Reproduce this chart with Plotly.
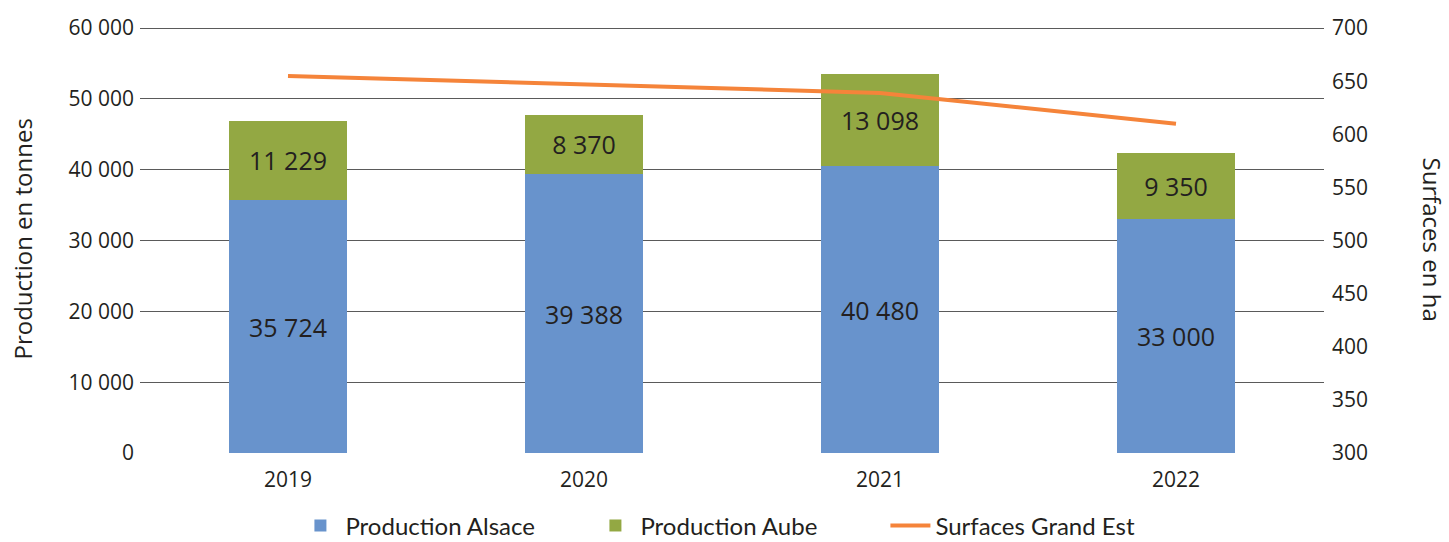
import plotly.graph_objects as go

years = ["2019", "2020", "2021", "2022"]
alsace = [35724, 39388, 40480, 33000]
aube = [11229, 8370, 13098, 9350]
surfaces = [655, 647, 639, 610]

left_ticks = [0, 10000, 20000, 30000, 40000, 50000, 60000]
right_ticks = [300, 350, 400, 450, 500, 550, 600, 650, 700]

FONT = "Open Sans"
TXT = "#231F20"
fig = go.Figure()
fig.add_trace(go.Bar(
    x=years, y=alsace, name="Production Alsace",
    marker=dict(color="#6893CC", line=dict(width=0)),
    texttemplate="%{y:,}", textposition="inside", insidetextanchor="middle",
    textfont=dict(size=25, color=TXT, family=FONT),
))
fig.add_trace(go.Bar(
    x=years, y=aube, name="Production Aube",
    marker=dict(color="#93A843", line=dict(width=0)),
    texttemplate="%{y:,}", textposition="inside", insidetextanchor="middle",
    textfont=dict(size=25, color=TXT, family=FONT),
))
fig.add_trace(go.Scatter(
    x=years, y=surfaces, name="Surfaces Grand Est", yaxis="y2",
    mode="lines", line=dict(color="#F5843A", width=4),
))

fig.update_layout(
    width=1449, height=542,
    barmode="stack", bargap=0.6,
    separators=", ",
    paper_bgcolor="white", plot_bgcolor="white",
    margin=dict(l=140, r=125, t=26, b=89, autoexpand=False),
    font=dict(family=FONT, size=21, color=TXT),
    xaxis=dict(showgrid=False, showline=False, ticks="", tickfont=dict(size=21),
               automargin=False, ticklabelstandoff=12),
    yaxis=dict(range=[0, 60300], tickvals=left_ticks, tickformat=",d",
               showgrid=True, gridcolor="#5a5a5a", gridwidth=1, zeroline=False,
               ticks="", ticklabelstandoff=5, automargin=False, tickfont=dict(size=21)),
    yaxis2=dict(range=[300, 702], tickvals=right_ticks, overlaying="y", side="right",
                showgrid=False, zeroline=False, ticks="", ticklabelstandoff=7,
                automargin=False, tickfont=dict(size=21)),
    legend=dict(orientation="h", x=0.505, xanchor="center", y=-0.118, yanchor="top",
                font=dict(size=24, family="Lato", color=TXT), itemwidth=40,
                traceorder="normal", entrywidth=240),
    showlegend=True,
)
fig.add_annotation(text="Production en tonnes", textangle=-90, xref="paper", yref="paper",
                   x=0.0, xshift=-118, xanchor="center", y=0.5, yanchor="middle",
                   showarrow=False, font=dict(size=24))
fig.add_annotation(text="Surfaces en ha", textangle=90, xref="paper", yref="paper",
                   x=1.0, xshift=108, xanchor="center", y=0.5, yanchor="middle",
                   showarrow=False, font=dict(size=24))

fig.write_html("out.html", config={"displayModeBar": False},
               post_script="document.body.style.margin='0';document.body.style.overflow='hidden';")
